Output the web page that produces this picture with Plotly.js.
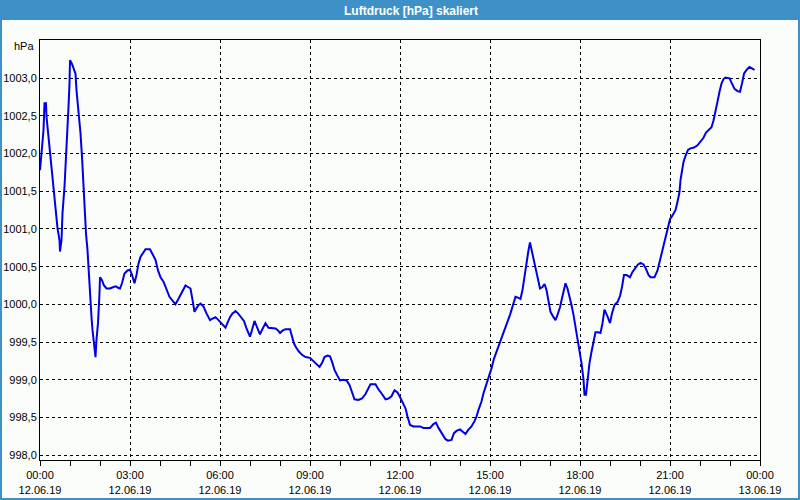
<!DOCTYPE html>
<html>
<head>
<meta charset="utf-8">
<script src="https://cdn.plot.ly/plotly-3.0.1.min.js"></script>
<style>html,body{margin:0;padding:0;background:#fbfdfb;}#chart{width:800px;height:500px;}</style>
</head>
<body>
<div id="chart"></div>
<script>
// time in minutes since 12.06.19 00:00
const minutes = [0,4,7,9,12,13,17,21,25,28,31,35,39,40,43,45,49,52,55,57,59,60,64,68,71,73,77,81,84,87,89,92,95,97,100,103,105,109,111,113,116,119,120,124,128,133,140,147,152,156,160,164,169,175,180,184,189,193,197,201,207,211,220,225,231,236,241,247,252,259,265,271,276,281,287,291,296,301,305,309,313,317,321,327,333,340,345,351,357,364,371,376,380,385,391,396,403,408,413,417,420,424,429,435,440,444,451,457,464,471,475,480,485,491,500,504,508,512,517,524,531,540,547,553,559,564,569,575,580,584,589,595,600,607,613,619,624,629,637,644,651,656,661,671,677,684,691,697,703,709,715,720,725,731,735,740,747,760,767,780,787,792,797,804,811,816,823,828,833,840,845,851,856,863,869,873,877,883,887,892,897,903,908,913,919,924,929,935,940,945,951,956,961,965,969,973,977,980,984,988,992,996,1000,1005,1009,1013,1017,1021,1027,1031,1035,1040,1044,1048,1051,1055,1059,1063,1067,1071,1075,1079,1083,1087,1089,1092,1095,1099,1103,1107,1111,1116,1121,1125,1129,1135,1140,1144,1149,1155,1160,1164,1168,1173,1180,1185,1191,1196,1201,1207,1212,1217,1221,1229,1235,1240,1245,1251,1256,1260,1265,1271,1275,1279,1281,1284,1287,1291,1296,1301,1308,1315,1321,1327,1332,1337,1343,1347,1351,1355,1359,1363,1367,1371,1379,1384,1389,1395,1400,1404,1408,1413,1419,1424,1429];
const pressure = [1001.78,1002.13,1002.31,1002.67,1002.67,1002.49,1002.22,1002.00,1001.74,1001.51,1001.25,1001.01,1000.85,1000.70,1000.85,1001.21,1001.56,1001.91,1002.27,1002.62,1002.93,1003.24,1003.19,1003.11,1003.06,1002.84,1002.58,1002.27,1001.96,1001.51,1001.25,1000.94,1000.72,1000.45,1000.15,999.83,999.66,999.44,999.30,999.53,999.75,1000.15,1000.36,1000.32,1000.25,1000.21,1000.21,1000.23,1000.24,1000.22,1000.21,1000.28,1000.41,1000.45,1000.46,1000.39,1000.28,1000.39,1000.54,1000.63,1000.70,1000.73,1000.73,1000.67,1000.59,1000.45,1000.36,1000.30,1000.21,1000.10,1000.05,1000.00,1000.06,1000.12,1000.21,1000.25,1000.23,1000.21,1000.06,999.90,999.95,999.99,1000.01,999.97,999.88,999.79,999.81,999.83,999.79,999.74,999.69,999.77,999.83,999.88,999.91,999.88,999.83,999.78,999.68,999.60,999.57,999.66,999.78,999.68,999.60,999.66,999.75,999.69,999.68,999.68,999.66,999.62,999.65,999.67,999.67,999.58,999.48,999.43,999.38,999.33,999.30,999.29,999.25,999.21,999.17,999.22,999.30,999.32,999.31,999.24,999.13,999.05,998.99,999.00,998.99,998.93,998.82,998.74,998.73,998.75,998.81,998.88,998.94,998.94,998.87,998.81,998.74,998.75,998.78,998.86,998.83,998.77,998.71,998.62,998.51,998.40,998.38,998.38,998.36,998.36,998.41,998.43,998.36,998.28,998.21,998.19,998.20,998.29,998.32,998.34,998.31,998.28,998.33,998.38,998.45,998.51,998.60,998.71,998.82,998.92,999.03,999.15,999.28,999.37,999.46,999.55,999.64,999.75,999.86,999.97,1000.10,1000.09,1000.07,1000.19,1000.39,1000.54,1000.72,1000.82,1000.70,1000.54,1000.43,1000.32,1000.21,1000.23,1000.27,1000.19,1000.03,999.90,999.83,999.79,999.86,999.96,1000.08,1000.21,1000.28,1000.21,1000.11,999.99,999.86,999.70,999.57,999.41,999.22,999.00,998.80,998.80,999.00,999.22,999.37,999.50,999.63,999.63,999.62,999.75,999.93,999.84,999.75,999.88,999.99,1000.03,1000.11,1000.23,1000.39,1000.39,1000.36,1000.43,1000.49,1000.53,1000.55,1000.53,1000.47,1000.39,1000.36,1000.36,1000.45,1000.59,1000.74,1000.90,1001.03,1001.13,1001.18,1001.25,1001.36,1001.49,1001.65,1001.78,1001.89,1001.97,1002.05,1002.07,1002.08,1002.11,1002.16,1002.21,1002.28,1002.31,1002.35,1002.44,1002.55,1002.69,1002.82,1002.93,1002.99,1003.01,1003.00,1002.93,1002.86,1002.83,1002.82,1002.93,1003.06,1003.11,1003.15,1003.13,1003.11];

const xTickVals = [0,180,360,540,720,900,1080,1260,1440];
const xTickText = ['00:00<br>12.06.19','03:00<br>12.06.19','06:00<br>12.06.19','09:00<br>12.06.19','12:00<br>12.06.19','15:00<br>12.06.19','18:00<br>12.06.19','21:00<br>12.06.19','00:00<br>13.06.19'];
const yTickVals = [998.0,998.5,999.0,999.5,1000.0,1000.5,1001.0,1001.5,1002.0,1002.5,1003.0];
const yTickText = ['998,0','998,5','999,0','999,5','1000,0','1000,5','1001,0','1001,5','1002,0','1002,5','1003,0'];

const W = 800, H = 500, L = 40, R = 40, T = 40, B = 40;
const pw = W - L - R, ph = H - T - B;
const px = v => (v - L) / pw;
const py = v => (H - B - v) / ph;
const barColor = '#3d91c7';

const font = {family: 'Liberation Sans, Arial, sans-serif', size: 11, color: '#000'};

const trace = {
  x: minutes, y: pressure, type: 'scatter', mode: 'lines',
  line: {color: '#0000e0', width: 2}, hoverinfo: 'skip'
};

const layout = {
  width: W, height: H,
  margin: {l: L, r: R, t: T, b: B, pad: 0},
  paper_bgcolor: '#fbfdfb', plot_bgcolor: '#fbfdfb',
  showlegend: false,
  font: font,
  title: {
    text: 'Luftdruck [hPa] skaliert',
    xref: 'container', yref: 'container', x: 411 / W, y: 1 - 10.5 / H,
    xanchor: 'center', yanchor: 'middle',
    font: {family: 'Liberation Sans, Arial, sans-serif', size: 12, color: '#ffffff', weight: 'bold'}
  },
  xaxis: {
    range: [0, 1440], fixedrange: true,
    tickmode: 'array', tickvals: xTickVals, ticktext: xTickText,
    ticks: 'outside', ticklen: 5, tickcolor: '#000', tickwidth: 1,
    showgrid: true, gridcolor: '#000', gridwidth: 1, griddash: '3px,3px',
    showline: true, mirror: true, linecolor: '#000', linewidth: 1,
    zeroline: false, tickfont: font,
    minor: {tickmode: 'linear', tick0: 0, dtick: 60, ticks: 'outside', ticklen: 5, tickcolor: '#000', tickwidth: 1, showgrid: false}
  },
  yaxis: {
    range: [997.934, 1003.508], fixedrange: true,
    tickmode: 'array', tickvals: yTickVals, ticktext: yTickText,
    ticks: '', showgrid: true, gridcolor: '#000', gridwidth: 1, griddash: '3px,3px',
    showline: true, mirror: true, linecolor: '#000', linewidth: 1,
    zeroline: false, tickfont: font
  },
  shapes: [
    {type: 'rect', xref: 'paper', yref: 'paper', x0: px(0), x1: px(800), y0: py(20), y1: py(0), fillcolor: barColor, line: {width: 0}, layer: 'above'},
    {type: 'rect', xref: 'paper', yref: 'paper', x0: px(0), x1: px(2), y0: py(500), y1: py(0), fillcolor: barColor, line: {width: 0}, layer: 'above'},
    {type: 'rect', xref: 'paper', yref: 'paper', x0: px(798), x1: px(800), y0: py(500), y1: py(0), fillcolor: barColor, line: {width: 0}, layer: 'above'},
    {type: 'rect', xref: 'paper', yref: 'paper', x0: px(0), x1: px(800), y0: py(500), y1: py(498), fillcolor: barColor, line: {width: 0}, layer: 'above'}
  ],
  annotations: [
    {text: 'hPa', xref: 'paper', yref: 'paper', x: px(36), y: py(46), xanchor: 'right', yanchor: 'middle', showarrow: false, font: font}
  ]
};

Plotly.newPlot('chart', [trace], layout, {displayModeBar: false, staticPlot: true});
</script>
</body>
</html>
